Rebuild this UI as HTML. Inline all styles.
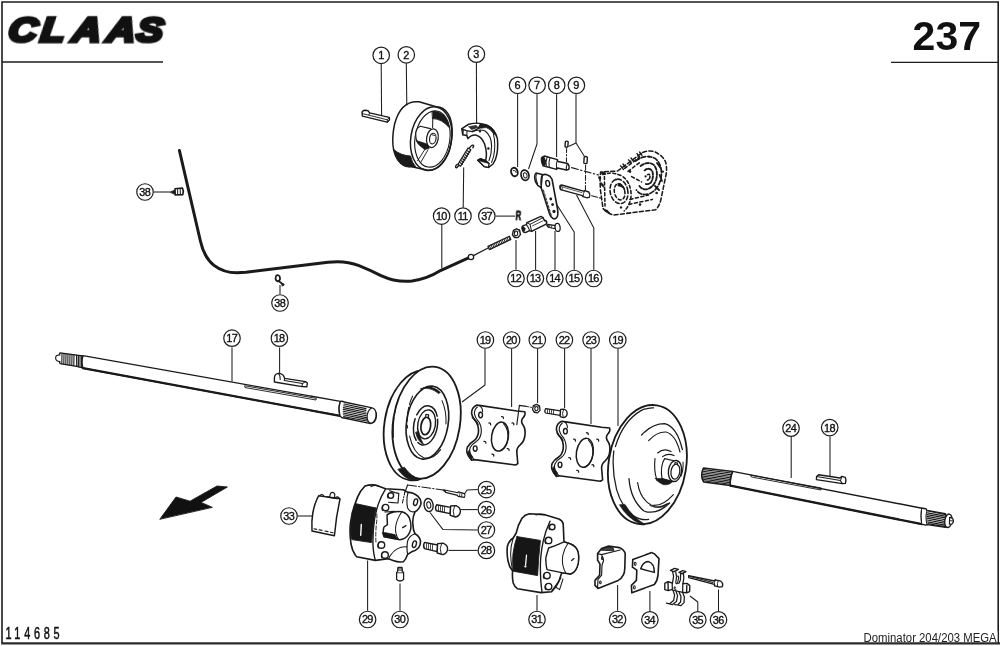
<!DOCTYPE html>
<html lang="de"><head><meta charset="utf-8"><title>CLAAS 237 - Dominator 204/203 MEGA</title>
<style>html,body{margin:0;padding:0;background:#fff}svg{display:block}svg text{will-change:transform}</style></head>
<body>
<svg width="1000" height="646" viewBox="0 0 1000 646">
<rect width="1000" height="646" fill="#fff"/>
<g fill="none" stroke="#1c1c1c" stroke-linecap="butt">
<path d="M2,643 L2,2 L998.2,2 L998.2,643" stroke-width="1.6"/>
<path d="M2,62 L163,62" stroke-width="1.3"/>
<path d="M891,62.3 L998.2,62.3" stroke-width="1.3"/>
<path d="M1.2,643.4 L1000,643.4" stroke-width="2.2" stroke="#2a2a2a"/>
</g>
<text transform="translate(0 41.9) scale(1.12 1) skewX(-6)" x="6.4 35.3 63.6 94.5 121" y="0" font-family="'Liberation Sans',sans-serif" font-weight="bold" font-style="italic" font-size="35.6" fill="#111" stroke="#111" stroke-width="3.7" stroke-linejoin="miter">CLAAS</text>
<text x="912.6" y="49.6" font-family="'Liberation Sans',sans-serif" font-weight="bold" font-size="41" textLength="68.4" lengthAdjust="spacingAndGlyphs" fill="#111">237</text>
<text transform="translate(5.4 639.3) scale(0.7 1)" font-family="'Liberation Sans',sans-serif" font-size="15.6" letter-spacing="5.3" fill="#111" stroke="#111" stroke-width="0.5">114685</text>
<rect x="862" y="631" width="135.4" height="11" fill="#fff"/>
<text x="863.6" y="642.2" font-family="'Liberation Sans',sans-serif" font-size="12.3" textLength="133" lengthAdjust="spacingAndGlyphs" fill="#222">Dominator 204/203 MEGA</text>
<!-- 01_cable.svg -->
<g fill="none" stroke="#1a1a1a" stroke-linecap="round" stroke-linejoin="round">
  <!-- bowden cable 10 -->
  <path d="M179.4,150.5 L200.4,241 Q204,257.4 214,265.4 Q223.6,272.8 237,272.8 L246,272.2 L328,262.3 Q345,260.2 359,265.6 Q371,270.5 381,275.6 Q396,282.6 412,281 Q427,279 441,270.3 L468.5,257.8" stroke-width="3"/>
  <circle cx="471" cy="257" r="2.7" fill="#fff" stroke-width="1.26"/>
  <path d="M473.5,255.6 L488.6,247.8" stroke-width="1.26"/>
  <!-- threaded rod -->
  <path d="M488,246.4 L509.4,236.2 L510.8,239.4 L489.4,249.6 Z" fill="#fff" stroke-width="1.26"/>
  <path d="M489.6,246.0 L490.8,248.9 M491.2,245.2 L492.4,248.1 M492.8,244.5 L494.0,247.4 M494.4,243.7 L495.6,246.6 M496.0,243.0 L497.2,245.9 M497.6,242.2 L498.8,245.1 M499.2,241.5 L500.4,244.4 M500.8,240.7 L502.0,243.6 M502.4,240.0 L503.6,242.9 M504.0,239.2 L505.2,242.1 M505.6,238.4 L506.8,241.3 M507.2,237.7 L508.4,240.6 M508.8,236.9 L510.0,239.8" stroke-width="0.92"/>
  <!-- cable clip 38 upper -->
  <path d="M170.5,192 L174.5,190.3 L174.5,193.9 Z" fill="#1a1a1a" stroke-width="0.92"/>
  <path d="M175,188.8 L182.4,188 Q184.2,191.2 182.8,194.6 L175.2,195 Z" fill="#fff" stroke-width="1.61"/>
  <path d="M177.6,189 L177.7,194.6 M180.2,188.6 L180.4,194.6" stroke-width="1.03"/>
  <!-- cable clip 38 lower -->
  <path d="M276.3,275.6 Q274.2,279.6 277.6,281.4 Q280.8,280.8 279.8,276.8 Q278.6,274.2 276.3,275.6 Z M278.2,280.8 L283.6,284.8" stroke-width="1.72"/>
  <path d="M281.8,283.2 L284,284.4 L282.6,286 Z" fill="#1a1a1a" stroke-width="0.92"/>
</g>
<!-- 02_drum.svg -->
<g fill="none" stroke="#1a1a1a" stroke-linecap="round" stroke-linejoin="round" stroke-width="1.26">
  <!-- key 1 -->
  <path d="M362,112.6 Q362.2,110.4 365,110.2 L368.2,110.8 L369.6,112.8 L389.2,117.4 L389.6,119.8 L387.2,122.2 L362.4,116.2 Z" fill="#fff" stroke-width="1.38"/>
  <path d="M369.6,112.8 L368.8,115.2 L387.4,119.8 L389.2,117.4 M387.4,119.8 L387.2,122.2 M362.4,113.6 L368.8,115.2" stroke-width="0.92"/>
  <!-- drum 2 : outer body -->
  <path d="M419,101.8 Q401,100 394.6,124 Q389.6,148 398,160.4 Q404,168 411,166.6 L427.5,170.2 Q441.5,171.2 449.4,150.4 Q455.6,126 448,113.6 Q443.2,106.6 436.2,106.8 Z" fill="#fff" stroke-width="1.49"/>
  <!-- front rim ellipse -->
  <ellipse cx="431.2" cy="138.6" rx="20.4" ry="32" transform="rotate(9 431.2 138.6)" stroke-width="1.49"/>
  <ellipse cx="432.4" cy="139" rx="17.4" ry="28.4" transform="rotate(9 432.4 139)" stroke-width="1.15"/>
  <!-- dark shading bottom-left of outer surface -->
  <path d="M394.2,150 Q396,158 400,162.4 Q405,167.6 411,166.6 L416.5,167.8 Q411.6,162.4 410.6,156 Q401,155.6 394.2,150 Z" fill="#1a1a1a" stroke-width="0.92"/>
  <!-- dark shading inside top -->
  <path d="M432.4,111.4 Q440.6,110.8 446.2,118.6 Q448.4,122.6 449,127.4 Q441.6,118.6 432.8,118.6 Z" fill="#1a1a1a" stroke-width="0.92"/>
  <path d="M432.8,117.6 L432.6,127.4" stroke-width="1.03"/>
  <!-- hub -->
  <path d="M430.4,128.6 L420.2,126.2 Q415.2,128.4 415.8,136.2 Q416.2,142.6 420.2,144.6 L428.6,147 " fill="#fff" stroke-width="1.15"/>
  <path d="M416.4,140.6 L427.8,144.2 L429.4,148.2 L424.6,149.6 L420.2,146 Q417.6,144 416.4,140.6 Z" fill="#1a1a1a" stroke-width="0.69"/>
  <ellipse cx="432.4" cy="138.2" rx="5.8" ry="9.4" transform="rotate(9 432.4 138.2)" fill="#fff" stroke-width="1.26"/>
  <ellipse cx="432.8" cy="138.6" rx="3.2" ry="5.4" transform="rotate(9 432.8 138.6)" stroke-width="1.15"/>
  <path d="M431.6,134.6 L435,135.6" stroke-width="0.92"/>
  <!-- spokes -->
  <path d="M425.4,148.6 L417.6,160.8 M428,149.8 L420.4,163" stroke-width="0.92"/>
</g>
<!-- 03_shoe.svg -->
<g fill="none" stroke="#1a1a1a" stroke-linecap="round" stroke-linejoin="round" stroke-width="1.26">
  <!-- brake shoe 3 outer silhouette -->
  <path d="M461.8,128.8 L468.6,124.4 Q476,122.6 486.2,125 Q494.6,128.6 497.4,138.6 Q498.6,150.6 495.4,159.6 L493,164 L488.6,167.4 L484.4,166.6 L477.8,160.2 L480.4,158.8 L485.6,160.6 Q487.6,153 484.6,144 Q481.6,136.4 475.6,135 Q471,134.8 468,138.6 L466.8,135.6 L462.8,134.8 Z" fill="#fff" stroke-width="1.49"/>
  <!-- top block shading -->
  <path d="M468.6,124.4 Q476,122.6 481,123.6 L478.4,128.4 L472.2,131.6 L466.4,130.6 L461.8,128.8 Z" fill="#fff"/>
  <path d="M468,126.4 L476,125 L478.6,127.4 L471.6,130 Z" fill="#333" stroke="none"/>
  <path d="M462.8,134.8 L463.4,129.6 M466.8,135.6 L467,131" stroke-width="1.03"/>
  <!-- lining dark band top right -->
  <path d="M481,123.6 Q486.2,124 489.4,126 Q494.4,129.4 496.6,135.4 L493.4,133.6 Q490.6,129 486.2,127.6 L478.4,128.4 Z" fill="#1a1a1a" stroke-width="0.69"/>
  <!-- web / lining boundaries -->
  <path d="M472.2,131.6 Q479.6,128.8 485.2,131 Q491.6,136 491.6,146 Q491.6,154 489,160.6" stroke-width="1.15"/>
  <path d="M493.4,133.6 Q496,144 493.6,156.6 L491.6,162.4" stroke-width="1.03"/>
  <circle cx="480" cy="131.2" r="0.6" fill="#1a1a1a"/><circle cx="488.4" cy="148.4" r="0.6" fill="#1a1a1a"/>
  <!-- bottom end face -->
  <path d="M477.8,160.2 L484.4,166.6 L488.6,167.4 L489,163.4 L485.6,160.6 L480.4,158.8 Z" fill="#fff"/>
  <path d="M477.8,160.2 L480.4,158.8 L486,160.8 L489.4,163.6 L485,162.4 Z" fill="#1a1a1a" stroke-width="0.69"/>
  <!-- spring 11 -->
  <path d="M472.8,147.8 Q474.8,145 472.4,145.2 Q470.4,146 469.2,148.6" stroke-width="1.38"/>
  <path d="M468,148 L457.8,164.6 L460.6,166.2 L470.8,149.8 Z" fill="#fff" stroke-width="1.26"/>
  <path d="M467.4,150.8 L469.6,152.2 M466.2,152.8 L468.4,154.2 M465,154.8 L467.2,156.2 M463.8,156.8 L466,158.2 M462.6,158.8 L464.8,160.2 M461.4,160.8 L463.6,162.2 M460.2,162.8 L462.4,164.2" stroke-width="1.26"/>
  <path d="M459,165.4 Q456.2,169 455.6,167 Q455.4,165.4 457.2,164.4" stroke-width="1.38"/>
</g>
<!-- 04_linkage.svg -->
<g fill="none" stroke="#1a1a1a" stroke-linecap="round" stroke-linejoin="round" stroke-width="1.26">
  <!-- washer 6 -->
  <ellipse cx="514.4" cy="172" rx="3.3" ry="4.3" transform="rotate(-15 514.4 172)" fill="#fff" stroke-width="1.84"/>
  <path d="M513.2,170.4 Q515.8,169.8 516.4,172.6" stroke-width="0.92"/>
  <!-- washer 7 -->
  <ellipse cx="525" cy="175.2" rx="3.9" ry="5.2" transform="rotate(-15 525 175.2)" fill="#fff" stroke-width="1.72"/>
  <ellipse cx="525.2" cy="175.4" rx="1.8" ry="2.7" transform="rotate(-15 525.2 175.4)" stroke-width="0.92"/>
  <!-- pin 8 -->
  <path d="M544.2,156 L557.4,159.6 L558,161.6 L567.8,163.6 Q570,166.4 568.6,169.6 L566.4,170 L557.4,168 L556.6,169.4 L543,165.8 Q540.6,160.4 544.2,156 Z" fill="#fff" stroke-width="1.49"/>
  <ellipse cx="543.4" cy="161" rx="2" ry="4.6" transform="rotate(-12 543.4 161)" fill="#1a1a1a" stroke-width="0.80"/>
  <path d="M547.2,156.8 Q545.4,161.6 546.4,166.6 M550,157.6 Q548.2,162.4 549.2,167.4 M557.4,159.6 Q555.6,164.4 556.6,169.4 M567.2,164 Q565.8,167 566.4,170" stroke-width="1.03"/>
  <!-- small pins 9 -->
  <path d="M565.4,141.6 L565,146.6 Q566.4,147.8 567.8,146.8 L568.2,141.8 Q566.8,140.6 565.4,141.6 Z" fill="#fff" stroke-width="1.38"/>
  <path d="M584.2,157 L583.8,163 Q585.4,164.2 587,163.2 L587.4,157.2 Q585.8,156 584.2,157 Z" fill="#fff" stroke-width="1.38"/>
  <!-- dash-dot axis lines -->
  <path d="M566.6,148.6 L566.4,163.6" stroke-width="1.03" stroke-dasharray="4 2 1.2 2"/>
  <path d="M585.6,165 L585.4,192.6" stroke-width="1.03" stroke-dasharray="5 2 1.2 2"/>
  <path d="M571.6,167.6 L598.6,175" stroke-width="1.15" stroke-dasharray="7 2.4 1.4 2.4"/>
  <path d="M591.6,195.8 L601,198.2" stroke-width="1.15" stroke-dasharray="6 2 1.4 2"/>
  <!-- lever 15 -->
  <path d="M542.2,175.4 Q544.4,173.8 547,174.8 Q550.6,176 552,179.2 L557.2,207 Q558.6,214.4 557.2,216.8 Q555.6,219.6 553,218.6 Q550.8,217.6 549.6,214 L542.8,192.4 L541,187.4 Z" fill="#fff" stroke-width="1.61"/>
  <path d="M536,173 L542.2,174.4 Q540.4,180 541.4,188 L537.8,185.4 Q534.6,181.6 534.6,177.4 Q534.8,174 536,173 Z" fill="#fff" stroke-width="1.49"/>
  <path d="M536.4,174.6 Q535,178 537.6,183.6" stroke-width="1.03"/>
  <ellipse cx="547.7" cy="183.4" rx="1.9" ry="3" transform="rotate(-12 547.7 183.4)" stroke-width="1.38"/>
  <path d="M543.4,190 L551.4,215.6" stroke-width="0.92" stroke-dasharray="2.4 1.6"/>
  <circle cx="550.8" cy="199" r="0.8" fill="#1a1a1a"/><circle cx="552.6" cy="204.6" r="0.8" fill="#1a1a1a"/><circle cx="554" cy="211.4" r="1" fill="#1a1a1a"/>
  <!-- pin 16 -->
  <path d="M561.6,185 L583.4,191.2 L584.6,190.6 L588.8,192 Q590.6,194.4 589.4,197.2 L587.4,197.8 L583,196.6 L582.4,195.6 L560.6,189.6 Q559.2,186.8 561.6,185 Z" fill="#fff" stroke-width="1.38"/>
  <ellipse cx="561" cy="187.4" rx="1.2" ry="2.5" transform="rotate(-14 561 187.4)" stroke-width="0.92"/>
  <path d="M584.6,190.6 Q583.2,193.6 583,196.6" stroke-width="0.92"/>
  <path d="M563,187.2 L582,192.6" stroke-width="0.69"/>
  <!-- nut 12 -->
  <path d="M513.4,230.4 L516.6,228.8 L519.6,230.2 L520.4,234.6 L518,237.6 L514.6,237.6 L512.4,234.8 Z" fill="#fff" stroke-width="1.38"/>
  <ellipse cx="516" cy="233.4" rx="1.7" ry="2.3" stroke-width="1.03"/>
  <path d="M513.4,230.4 L515.2,232 M519.6,230.2 L517.6,231.6 M514.6,237.6 L515.4,235.6" stroke-width="0.80"/>
  <!-- clevis 13 -->
  <path d="M522.4,229.6 Q521.2,226.6 523.4,225.6 L526.4,224.6 L527,222.6 L541,216.4 L543,217.6 L544.6,220.8 L545.6,220.4 Q547.4,221.8 546.2,224.2 L531.6,231.4 L529.6,230.6 L525.4,232.6 Q523,232.6 522.4,229.6 Z" fill="#fff" stroke-width="1.49"/>
  <path d="M526.4,224.6 Q528.4,227 529.6,230.6 M527,222.6 L530,224.4 L531.6,231.4 M530,224.4 L543,217.6" stroke-width="1.03"/>
  <path d="M532.6,225.8 L542.6,221" stroke-width="0.80"/>
  <ellipse cx="523.6" cy="228.8" rx="1.3" ry="2.2" transform="rotate(-20 523.6 228.8)" fill="#1a1a1a" stroke-width="0.69"/>
  <!-- bolt 14 -->
  <path d="M547.8,224.4 L555.4,225.6 L555.2,228.8 L548.2,227.2 Z" fill="#fff" stroke-width="1.15"/>
  <path d="M549.8,224.8 L549.6,227.4 M551.8,225.2 L551.6,227.8" stroke-width="0.80"/>
  <ellipse cx="557.6" cy="227.4" rx="2.5" ry="4.1" transform="rotate(-8 557.6 227.4)" fill="#fff" stroke-width="1.26"/>
  <path d="M547.8,224.4 L548.2,227.2 L546.4,225.6 Z" fill="#1a1a1a" stroke-width="0.69"/>
</g>
<text transform="translate(515.4 219.9) scale(0.62 1) skewX(-6)" font-family="'Liberation Sans',sans-serif" font-weight="bold" font-size="12.8" fill="#1a1a1a" stroke="#1a1a1a" stroke-width="0.80">R</text>
<!-- dashed housing -->
<g fill="none" stroke="#1a1a1a" stroke-linecap="round" stroke-linejoin="round" stroke-width="1.55" stroke-dasharray="4 2.4">
  <path d="M642.6,152.4 Q649,150 654.6,151.8 Q662,155 665.4,161.4 Q667.2,167 666.2,174 L661,199 Q659.6,206 655.6,209.8 L613.6,215 Q607.6,213.6 603,208.4 L600.4,190 L600,179.6 L600.6,172 L617.6,171 Z"/>
  <ellipse cx="619" cy="191.4" rx="8.8" ry="12.4" transform="rotate(-12 619 191.4)"/>
  <ellipse cx="619.6" cy="191.8" rx="5.2" ry="8.2" transform="rotate(-12 619.6 191.8)" stroke-dasharray="3 2.4"/>
  <path d="M604.4,176.6 L605,206 M607.6,173.4 Q613,172 622,176 Q630.6,181.6 631.2,195 Q630.2,205.6 624.2,211" stroke-dasharray="3 2.4"/>
  <!-- right lobe concentric arcs -->
  <path d="M635.6,161 Q646,153.4 655.4,158.6 Q663,165 661,178.4 Q658,190.4 648.8,194 Q640.6,196 636.4,190" stroke-width="1.72" stroke-dasharray="4.4 2"/>
  <path d="M640.6,166 Q648,160.6 654,165 Q658.6,171 656,180 Q653,188 646.2,189.4 Q641.6,189.4 639.4,186" stroke-width="1.84" stroke-dasharray="3.6 1.8"/>
  <path d="M644.6,170.4 Q649.6,166.6 652.4,171.6 Q654,177 651,182.4 Q647.8,185.4 644.4,183.4" stroke-width="1.84" stroke-dasharray="3 1.6"/>
  <path d="M647.6,174.6 Q649.6,173.4 650,176.6 Q649.6,179.6 647.4,180" stroke-width="1.61" stroke-dasharray="2.4 1.4"/>
  <!-- ribs / ticks -->
  <path d="M624.6,168.4 L639.6,157 M628,171.4 L640.6,161.8 M631.6,176.6 L641.6,182 M630,199.4 L648.6,195 M629,204.4 L652.4,199.4" stroke-dasharray="3 2.6"/>
  <path d="M620.6,165.8 L623.4,169.4 M623,164 L625.8,167.6 M628.6,159.8 L631.4,163.4 M631,158 L633.8,161.6 M637,153.6 L639.4,157 M639.6,152 L642,155.4" stroke-width="1.38" stroke-dasharray="none"/>
  <path d="M657,163 L660.6,168 M659.6,175 L662,181 M655,186 L659,190" stroke-width="1.84" stroke-dasharray="none"/>
</g>
<g fill="#1a1a1a" stroke="none">
  <circle cx="630" cy="171.6" r="1.3"/><circle cx="649" cy="156.6" r="1.2"/><circle cx="662.8" cy="171.6" r="1.2"/><circle cx="640" cy="204.6" r="1.3"/><circle cx="621" cy="207.4" r="1.2"/><circle cx="616" cy="179.6" r="1.1"/><circle cx="656.6" cy="193" r="1.3"/><circle cx="645.6" cy="176.4" r="1.1"/>
  <path d="M617.6,183 Q622.6,182.6 625.4,190 Q621.6,186.4 617.6,186 Z"/>
  <path d="M600.6,181.6 L604,185 L603.6,188 L600.4,184.6 Z M603,208.4 L607.6,210 L610.6,213.6 L606,212.4 Z M600.6,172 L605,171.6 L606.4,174.8 L602,175.2 Z M598.4,176 L601.4,177.6 L600.8,180 L598.2,178.4 Z"/>
</g>
<!-- 05_shafts.svg -->
<g fill="none" stroke="#1a1a1a" stroke-linecap="round" stroke-linejoin="round" stroke-width="1.26">
  <!-- shaft 17 main body -->
  <path d="M83,355.6 L340.4,401.4 Q338,408 340,415.8 L83,368.2 Q81,362 83,355.6 Z" fill="#fff" stroke-width="1.38"/>
  <path d="M83,368.2 L340,415.8" stroke-width="2.2"/>
  <!-- left spline -->
  <path d="M60,352.8 L76.6,355.2 L76.8,366.4 L60,363.6 Q57.6,358 60,352.8 Z" fill="#fff"/>
  <path d="M76.6,355.2 L83,355.8 M76.8,366.4 L83,368" />
  <g stroke-width="1.09">
    <path d="M62,353.2 L61.8,363.8 M64,353.5 L63.8,364.2 M66,353.8 L65.8,364.5 M68,354.1 L67.8,364.8 M70,354.4 L69.8,365.2 M72,354.7 L71.8,365.5 M74,355 L73.8,365.8 M78.4,355.6 L78.4,366.8 M80,355.8 L80,367.2 M81.6,356 L81.6,367.6"/>
  </g>
  <path d="M60,355 Q55.6,354.6 55.6,358 Q55.8,361.4 60,361.6" fill="#fff" stroke-width="1.15"/>
  <!-- keyway -->
  <path d="M245,385.8 L316.4,398.4 L316,400 L245.4,387.6 Z" stroke-width="0.92"/>
  <!-- right spline -->
  <path d="M340.4,401.4 Q343,401 344,402 L371,407.6 Q376.6,409.6 376.4,416 Q376,422.6 370.6,423.6 L344,418 Q342,418.4 340,415.8 Q338,408 340.4,401.4 Z" fill="#fff" stroke-width="1.38"/>
  <ellipse cx="371.6" cy="415.6" rx="4.4" ry="7.6" transform="rotate(8 371.6 415.6)" fill="#fff" stroke-width="1.15"/>
  <g stroke-width="1.09">
    <path d="M344,404 L366,408.6 M343.6,405.8 L366,410.4 M343.4,407.6 L366,412.2 M343.2,409.4 L366.4,414 M343.2,411.2 L366.4,415.8 M343.2,413 L366.6,417.6 M343.4,414.8 L367,419.4 M343.6,416.6 L368,421.2"/>
  </g>
  <!-- key 18 (left) -->
  <path d="M274.4,377.6 Q274.6,373.8 278.6,373.4 Q282.4,373.4 284,376.6 L284.6,378.4 L305.4,381.6 L307.4,383 L306.8,386.8 L302,386.6 L274.4,382 Z" fill="#fff" stroke-width="1.38"/>
  <path d="M284.6,378.4 L284.2,380.6 L302.4,383.6 L302,386.6 M302.4,383.6 L305.4,381.6 M278.6,373.4 Q280.6,376 280.2,379.8" stroke-width="1.03"/>

  <!-- shaft 24 main body -->
  <path d="M732.6,471.4 L922,508.2 Q920,516 922,524.2 L730.4,485.6 Q729.6,478 732.6,471.4 Z" fill="#fff" stroke-width="1.38"/>
  <path d="M730.4,485.6 L922,524.2" stroke-width="2.3"/>
  <!-- left spline of 24 -->
  <path d="M703.4,468 L732.6,471.4 Q729.6,478 730.4,485.6 L703.6,482 Q699.8,475 703.4,468 Z" fill="#fff" stroke-width="1.49"/>
  <g stroke-width="1.15">
    <path d="M703.2,469.6 L731.4,473 M702.4,471.2 L730.8,474.6 M702,472.8 L730.4,476.2 M701.8,474.4 L730.2,477.8 M701.8,476 L730,479.4 M702,477.6 L730,481 M702.4,479.2 L730.2,482.6 M703,480.8 L730.4,484.2"/>
  </g>
  <!-- keyway 24 -->
  <path d="M751,475.2 L821.4,488 L821,490 L751.6,477 Z" stroke-width="0.92"/>
  <!-- right end spline of 24 -->
  <path d="M922,508.2 L926,508.8 L927,510.4 L945.4,513.6 Q948.4,520 945.6,527.4 L927,524.6 L925.4,525.2 L922,524.2" fill="#fff" stroke-width="1.38"/>
  <path d="M927,510.4 Q925,517 927,524.6" stroke-width="1.03"/>
  <g stroke-width="1.21">
    <path d="M928.2,511 L945.6,514.6 M927.6,512.8 L946.2,516.4 M927.2,514.6 L946.6,518.2 M927,516.4 L946.8,520 M927,518.2 L946.8,521.8 M927.2,520 L946.6,523.6 M927.6,521.8 L946.2,525.4 M928,523.6 L945.8,526.8"/>
  </g>
  <ellipse cx="948.4" cy="520.8" rx="3.6" ry="6.8" transform="rotate(8 948.4 520.8)" fill="#fff" stroke-width="1.38"/>
  <path d="M949.6,517.4 L952.6,518.4 Q954.4,520.8 952.4,523.8 L949.4,524.2 Z" fill="#fff" stroke-width="1.15"/>
  <path d="M949.4,520.6 L953,521" stroke-width="0.92"/>
  <!-- key 18 (right) -->
  <path d="M816.6,476.6 L818.6,474.8 L840,478 L842,476.4 L845.2,477.4 Q846.8,480.4 845.4,483.4 L842.4,483.6 L816.4,479.6 Z" fill="#fff" stroke-width="1.38"/>
  <path d="M816.6,476.6 L840.4,480.6 L842.4,483.6 M840.4,480.6 L842,476.4" stroke-width="1.03"/>
</g>
<!-- 06_discs.svg -->
<g fill="none" stroke="#1a1a1a" stroke-linecap="round" stroke-linejoin="round" stroke-width="1.38">
  <!-- LEFT DISC 19 -->
  <ellipse cx="417.8" cy="425.4" rx="33.4" ry="55.4" transform="rotate(9 417.8 425.4)" fill="#fff" stroke-width="1.84"/>
  <ellipse cx="426.6" cy="422.6" rx="33.4" ry="56.4" transform="rotate(9 426.6 422.6)" fill="#fff" stroke-width="1.84"/>
  <!-- rim dark bottom -->
  <path d="M398,469.6 Q404,478.4 412.6,480.4 L420,479.2 Q411,476.6 404.6,467.6 Z" fill="#1a1a1a" stroke-width="0.80"/>
  <!-- inner ring -->
  <ellipse cx="427.4" cy="422.6" rx="20.8" ry="36.8" transform="rotate(9 427.4 422.6)" stroke-width="1.61"/>
  <path d="M420.6,388.8 Q431,383.6 440.4,392.4 L438.6,393.6 Q430.6,386.6 420.6,388.8 Z" fill="#1a1a1a" stroke-width="0.69"/>
  <path d="M409.6,436 Q413,452.6 423.6,457.8 Q433,460 440.6,449.6" stroke-width="1.15" />
  <path d="M412.6,396 Q405.6,411 407.6,428" stroke-width="1.03" stroke-dasharray="9 3 14 4"/>
  <path d="M442,400.6 Q446.6,411 446,424" stroke-width="1.03"/>
  <!-- hub rings -->
  <ellipse cx="425.6" cy="425.4" rx="11.8" ry="19.8" transform="rotate(10 425.6 425.4)" stroke-width="1.49" stroke-dasharray="30 3 22 4"/>
  <ellipse cx="426.6" cy="424.4" rx="8.8" ry="14.6" transform="rotate(10 426.6 424.4)" stroke-width="1.38"/>
  <path d="M415.6,432.6 Q417.6,441.6 423.6,444.4 Q420,438.6 418.6,431.6 Z" fill="#1a1a1a" stroke-width="0.69"/>
  <ellipse cx="425.8" cy="426" rx="4.8" ry="8.8" transform="rotate(8 425.8 426)" fill="#fff" stroke-width="1.72"/>
  <path d="M425.4,416.4 L426,414.4 L428.6,414.8 L428.4,417.4" stroke-width="1.15"/>
  <!-- outer face reflex lines -->
  <path d="M398.6,398 Q391.6,418 393.6,440" stroke-width="1.03" stroke-dasharray="16 4 20 5"/>

  <!-- RIGHT DISC 19 -->
  <ellipse cx="647.4" cy="464.6" rx="38.8" ry="60" transform="rotate(9 647.4 464.6)" fill="#fff" stroke-width="1.84"/>
  <path d="M613.8,451 Q611.6,470 616.6,489.6 Q622,507.6 633,515.6 Q640.6,520.6 648.6,519.4" stroke-width="1.26"/>
  <path d="M615.4,446.6 Q623,421 641,410.6 Q647.6,407.4 653.6,407.8" stroke-width="1.26"/>
  <!-- rim dark bottom -->
  <path d="M619.6,505 Q627.6,518.6 640,523.6 L645,524.4 Q633,517.6 625,504.6 Z" fill="#1a1a1a" stroke-width="0.69"/>
  <!-- dish contours -->
  <path d="M641.6,435 Q652,423.6 664.6,423.6 Q677,426.6 682.4,449.6" stroke-width="1.26"/>
  <path d="M648.6,440.6 Q657,431.6 666,432 Q675.6,434.6 680,452" stroke-width="1.15"/>
  <path d="M629,478.6 Q630.6,500 644,511 Q656.6,515.6 669.6,503" stroke-width="1.26"/>
  <path d="M637.6,482.6 Q640,498.6 651,505 Q661.6,507.6 673.4,494.6" stroke-width="1.15"/>
  <path d="M650,505.6 Q659,508.6 667,503.6 L669.6,503 Q660,511 650,505.6 Z" fill="#1a1a1a" stroke-width="0.57"/>
  <!-- hub base -->
  <path d="M657.6,453 Q664,447.6 671,451.6 M655,458.6 Q653.6,470 657,480.6 M662.6,456.6 Q668,452.6 674,455.6" stroke-width="1.15"/>
  <!-- hub cylinder -->
  <path d="M675,461 L664.6,458.6 Q660,466 662,478.6 L672.6,481.6" fill="#fff" stroke-width="1.15"/>
  <path d="M655.4,478.6 L662,478.6 L672.6,481.6 Q669,485.6 663,484.6 Q658,482.6 655.4,478.6 Z" fill="#1a1a1a" stroke-width="0.69"/>
  <ellipse cx="675" cy="471" rx="6.6" ry="10.6" transform="rotate(8 675 471)" fill="#fff" stroke-width="1.38"/>
  <ellipse cx="675.4" cy="471.6" rx="4.4" ry="7.6" transform="rotate(8 675.4 471.6)" stroke-width="1.26"/>
  <path d="M674.6,464.4 L675,462.6 L677.6,463 L677.4,465" stroke-width="1.03"/>
  <path d="M681,476 Q683.6,470 683,462" stroke-width="1.03"/>
</g>
<!-- 07_flanges.svg -->
<g fill="none" stroke="#1a1a1a" stroke-linecap="round" stroke-linejoin="round">
    <path d="M479.2,405.4 L516.8,411 L524.8,411.8 Q526,415 522.4,418.6 Q520.6,421.6 523,425 Q525.6,428.6 525,434.6 Q524.6,441 520.4,444.6 Q516.6,447.6 516.8,452 L517.8,463.6 L515.6,465 L474.4,459.6 L471.6,460.2 L468.8,456.6 Q465.6,451.6 467.4,447.2 Q469.4,443.4 473.6,441 Q477.4,438.6 478.4,432.6 Q479,426.4 476,421.6 Q472.4,418 471.6,413.6 Q471.4,409 474.6,406.4 Q477,404.6 479.2,405.4 Z" fill="#fff" stroke-width="1.61"/>
    <!-- inner thickness line on left -->
    <path d="M479.2,405.4 Q482.6,407.4 482.6,411.4 M477.4,407 Q474.2,409.6 474.4,414 Q475.2,418 478.8,421.8 Q481.8,426.6 481.2,432.8 Q480.2,439 476.4,441.4 Q472.2,443.8 470.2,447.6 Q468.6,451.6 471.6,456.4 L473.6,459" stroke-width="1.15"/>
    <path d="M472.4,418 Q475,421.6 478.6,424.6 L476.6,421 Q473.6,418.6 472.4,416 Z M467.6,452 Q468.6,456.6 471.6,460.2 L472.6,456.6 Q469.6,453.6 469.4,450.6 Z" fill="#1a1a1a" stroke-width="0.69"/>
    <!-- center hole -->
    <ellipse cx="500" cy="436.6" rx="8.4" ry="14.6" transform="rotate(9 500 436.6)" stroke-width="1.49"/>
    <path d="M503.6,423.6 Q509.6,430 507.6,441 Q505.6,448.6 500.6,450.4" stroke-width="1.15"/>
    <!-- bolt holes -->
    <ellipse cx="480.6" cy="415" rx="1.9" ry="2.7" stroke-width="1.38"/>
    <ellipse cx="475.2" cy="448.6" rx="1.9" ry="2.7" stroke-width="1.38"/>
    <!-- small holes -->
    <g stroke-width="1.26">
      <path d="M501.6,416.6 Q503.6,416.2 503.4,418.4 M488.8,423 Q490.8,422.6 490.6,424.8 M512,423 Q514,422.6 513.8,424.8 M484,441.4 Q486,441 485.8,443.2 M507.2,448.6 Q509.2,448.2 509,450.4 M492,454.2 Q494,453.8 493.8,456"/>
    </g>
  </g>
<g transform="translate(84.8 16.2)" fill="none" stroke="#1a1a1a" stroke-linecap="round" stroke-linejoin="round">
    <path d="M479.2,405.4 L516.8,411 L524.8,411.8 Q526,415 522.4,418.6 Q520.6,421.6 523,425 Q525.6,428.6 525,434.6 Q524.6,441 520.4,444.6 Q516.6,447.6 516.8,452 L517.8,463.6 L515.6,465 L474.4,459.6 L471.6,460.2 L468.8,456.6 Q465.6,451.6 467.4,447.2 Q469.4,443.4 473.6,441 Q477.4,438.6 478.4,432.6 Q479,426.4 476,421.6 Q472.4,418 471.6,413.6 Q471.4,409 474.6,406.4 Q477,404.6 479.2,405.4 Z" fill="#fff" stroke-width="1.61"/>
    <!-- inner thickness line on left -->
    <path d="M479.2,405.4 Q482.6,407.4 482.6,411.4 M477.4,407 Q474.2,409.6 474.4,414 Q475.2,418 478.8,421.8 Q481.8,426.6 481.2,432.8 Q480.2,439 476.4,441.4 Q472.2,443.8 470.2,447.6 Q468.6,451.6 471.6,456.4 L473.6,459" stroke-width="1.15"/>
    <path d="M472.4,418 Q475,421.6 478.6,424.6 L476.6,421 Q473.6,418.6 472.4,416 Z M467.6,452 Q468.6,456.6 471.6,460.2 L472.6,456.6 Q469.6,453.6 469.4,450.6 Z" fill="#1a1a1a" stroke-width="0.69"/>
    <!-- center hole -->
    <ellipse cx="500" cy="436.6" rx="8.4" ry="14.6" transform="rotate(9 500 436.6)" stroke-width="1.49"/>
    <path d="M503.6,423.6 Q509.6,430 507.6,441 Q505.6,448.6 500.6,450.4" stroke-width="1.15"/>
    <!-- bolt holes -->
    <ellipse cx="480.6" cy="415" rx="1.9" ry="2.7" stroke-width="1.38"/>
    <ellipse cx="475.2" cy="448.6" rx="1.9" ry="2.7" stroke-width="1.38"/>
    <!-- small holes -->
    <g stroke-width="1.26">
      <path d="M501.6,416.6 Q503.6,416.2 503.4,418.4 M488.8,423 Q490.8,422.6 490.6,424.8 M512,423 Q514,422.6 513.8,424.8 M484,441.4 Q486,441 485.8,443.2 M507.2,448.6 Q509.2,448.2 509,450.4 M492,454.2 Q494,453.8 493.8,456"/>
    </g>
  </g>
<g fill="none" stroke="#1a1a1a" stroke-linecap="round" stroke-linejoin="round" stroke-width="1.15">
  <!-- bracket on 20 -->
  <path d="M516.8,424.6 L519.4,405.4 L526,406.4" stroke-width="1.15"/>
  <path d="M526,406.4 L531.6,407.4" stroke-width="0.92" stroke-dasharray="3 1.6"/>
  <!-- nut 21 -->
  <path d="M533.4,405.6 L536.6,404.4 L539.6,406 L540,410.4 L537.6,412.8 L534.4,412.4 L532.6,409.6 Z" fill="#fff" stroke-width="1.26"/>
  <ellipse cx="536.4" cy="408.6" rx="1.6" ry="2.2" stroke-width="1.03"/>
  <path d="M533.4,405.6 L535.2,407 M539.6,406 L537.8,407.2 M534.4,412.4 L535.4,410.6" stroke-width="0.80"/>
  <!-- bolt 22 -->
  <path d="M545.6,408.6 L560.6,410.8 L560.2,415.4 L545.4,413 Q544,410.8 545.6,408.6 Z" fill="#fff" stroke-width="1.26"/>
  <path d="M547.6,409 L547.4,413.2 M549.6,409.4 L549.4,413.6 M551.6,409.6 L551.4,413.8 M553.6,410 L553.4,414.2" stroke-width="0.80"/>
  <path d="M560.6,409.4 L564.4,409.2 Q567.4,410.6 567.2,413.8 Q566.6,417.2 563.6,417.6 L560.2,416.6 Z" fill="#fff" stroke-width="1.26"/>
  <path d="M563.6,409.4 Q561.6,413 563.2,417.4" stroke-width="0.92"/>
</g>
<!-- 08_calipers.svg -->
<g fill="none" stroke="#1a1a1a" stroke-linecap="round" stroke-linejoin="round" stroke-width="1.38">
  <!-- CALIPER 29 outline -->
  <path d="M365,486 Q369.6,484.4 375.4,485 L385.6,488.8 L403.2,489.8 L408,492.4 Q414,492.6 418,496.4 Q421.8,500 420.8,504.4 Q419,509.6 415,511.8 Q412.4,517 412.8,523.6 Q413,530 415,533.8 Q419.6,536.4 420.4,540.6 Q420.8,545 418.6,547.8 Q415.6,551 412,551.6 L407.6,554.4 Q405.8,559.6 403.2,561.8 Q398,562.4 393,560.4 L388.6,558.8 L375.4,560.4 L356.6,556.8 Q352.4,552 351,544 Q349.4,533 350.4,523.6 Q351.6,513 354.8,504.4 Q357.6,496 360.6,491.2 Z" fill="#fff" stroke-width="1.61"/>
  <!-- black pad -->
  <path d="M355.4,503.6 L376,508 L374.6,514.8 Q372.6,530 371.6,542.6 L351.8,539.6 Q349.8,530 350.6,523.6 Q351.8,512 355.4,503.6 Z" fill="#161616" stroke-width="0.92"/>
  <path d="M361.3,524.4 L360.7,535.2" stroke="#fff" stroke-width="1.38"/>
  <!-- front face boundary -->
  <path d="M385.6,488.8 Q380.6,497 378.2,504.4 Q375.6,512 374.6,519 Q372.6,532 373,545.6 Q373.4,554 375.4,560.4" stroke-width="1.38"/>
  <path d="M376,508 Q377.6,516 376.4,524 Q375.4,534 376,543" stroke-width="0.92" stroke-dasharray="4 2"/>
  <!-- top detail -->
  <path d="M371,486.6 Q374.6,484.6 378.6,486 M389.6,490.8 L395,492.6 L398.8,493.4 L398,503 L388.6,502.2 M385,512 L394.6,511.4" stroke-width="1.15"/>
  <path d="M404.8,492.6 L407.6,485" stroke-width="1.15"/>
  <path d="M402.4,503 L404.8,492.6" stroke-width="1.03" stroke-dasharray="4 1.6 1 1.6"/>
  <path d="M407.6,485 L443.6,490" stroke-width="1.03" stroke-dasharray="9 2 1.4 2"/>
  <!-- bolts on face -->
  <circle cx="390.8" cy="495.6" r="2.8" fill="#fff"/><path d="M388.6,493.6 Q386.6,495.6 388,498" stroke-width="1.03"/>
  <circle cx="385.6" cy="507.6" r="3.2" fill="#fff"/><path d="M383,505.6 Q381,508 382.6,510.6" stroke-width="1.03"/>
  <circle cx="381.4" cy="545" r="3.3" fill="#fff"/><path d="M378.8,543 Q376.8,545.4 378.4,548" stroke-width="1.03"/>
  <circle cx="385" cy="555" r="3.3" fill="#fff"/><path d="M382.4,553 Q380.4,555.4 382,558" stroke-width="1.03"/>
  <!-- piston housing -->
  <path d="M387,514.8 Q393,510.6 401.8,511.8 Q407.6,513.4 409.6,518.6 Q411.6,524.6 410.6,529.6 Q409,535.6 404.8,538.2 Q401.6,540 398.8,539.6 L384,536.8 Q382.4,532 384,527 L387.4,524.6 Z" fill="#fff" stroke-width="1.49"/>
  <path d="M398.8,539.6 Q395,534.6 395.6,527 Q396.6,519.6 401.8,511.8" stroke-width="1.03"/>
  <path d="M382.4,533 L384,536.8 L398.8,539.6 Q395.8,537.4 395,534.6 L385,532.6 Z" fill="#161616" stroke-width="0.69"/>
  <path d="M402.6,527.6 L406,525.6" stroke-width="1.26"/>
  <!-- ear holes -->
  <ellipse cx="415.6" cy="502.2" rx="1.9" ry="3.4" transform="rotate(15 415.6 502.2)" stroke-width="1.38"/>
  <ellipse cx="414.4" cy="544.2" rx="1.9" ry="3.4" transform="rotate(15 414.4 544.2)" stroke-width="1.38"/>
  <path d="M408,492.4 Q406,500 407.6,508 Q410,512.6 415,511.8 M415,533.8 Q409.6,535.6 407.6,541 Q406.4,548 407.6,554.4" stroke-width="1.15"/>
  <path d="M388.6,558.8 Q391.6,552 397.6,548.6 Q403,546 407,547" stroke-width="1.03"/>

  <!-- CALIPER 31 outline -->
  <path d="M522,518.2 Q525,514.6 529.4,513.8 L544,514.6 L558.8,519 Q562.6,520.6 563.2,524 L564,541.8 L570.6,544 Q576.6,546.6 578,552 Q579.6,560 577.2,566.8 Q575,572.6 570.6,574 L561.8,572.6 L558.8,581.6 L555.6,587 L551.6,591.8 L541,592.6 L517.6,588.8 Q514.4,586.6 513.2,583 Q512,577 512.6,571 Q509,566.6 508,561 Q506.6,553 507.4,546.2 Q509,540.6 513.2,538 L516.2,533 Q518,524.6 522,518.2 Z" fill="#fff" stroke-width="1.61"/>
  <!-- black pad -->
  <path d="M517,536.6 L540.4,540.4 Q538.4,558 537.6,575.6 L513.2,571.2 Q512.2,562 513,553.6 Q514.4,543.6 517,536.6 Z" fill="#161616" stroke-width="0.92"/>
  <path d="M526.5,555.2 L525.6,564.6" stroke="#fff" stroke-width="1.26"/><circle cx="525.4" cy="566.4" r="1.1" fill="#fff" stroke="none"/>
  <path d="M513.2,538 Q510.6,546 510.6,554 Q510.8,562 512.6,571" stroke-width="1.03"/>
  <!-- front face boundary -->
  <path d="M550,521.2 Q545.6,530.6 543.4,540.4 Q540.8,552 540.4,563.8 Q540.2,580 542,591.8" stroke-width="1.38"/>
  <path d="M536,515 Q540,513 544.6,515" stroke-width="1.03"/>
  <!-- bolts -->
  <circle cx="552.2" cy="527" r="2.8" fill="#fff"/><path d="M550,525 Q548,527 549.4,529.6" stroke-width="1.03"/>
  <circle cx="548.6" cy="540.4" r="3.2" fill="#fff"/><path d="M546,538.4 Q544,540.8 545.6,543.4" stroke-width="1.03"/>
  <circle cx="547" cy="575.6" r="3.2" fill="#fff"/><path d="M544.4,573.6 Q542.4,576 544,578.6" stroke-width="1.03"/>
  <circle cx="548.6" cy="586.6" r="3.2" fill="#fff"/><path d="M546,584.6 Q544,587 545.6,589.6" stroke-width="1.03"/>
  <!-- piston housing 31 -->
  <path d="M548.6,548 Q555,546 564,541.8 L570.6,544 Q576.6,546.6 578,552 Q579.6,560 577.2,566.8 Q575,572.6 570.6,574 L561.8,572.6 L547,569.6 Q545.4,563 546,557 Z" fill="#fff" stroke-width="1.38"/>
  <path d="M566,573.4 Q561.6,566 562.6,557 Q563.6,549.6 568,543.2" stroke-width="1.03"/>
  <path d="M571.6,560.6 L574,558.6" stroke-width="1.26"/>
  <path d="M552,590.6 L561,578 M555.6,587 L559.6,589.6 L563,579" stroke-width="1.03"/>
</g>
<!-- 09_small.svg -->
<g fill="none" stroke="#1a1a1a" stroke-linecap="round" stroke-linejoin="round" stroke-width="1.26">
  <!-- arrow -->
  <path d="M160,519 L176,497 L190,501.2 L217,486 L227.4,487 L201,502.4 L212,507.2 Z" fill="#111" stroke-width="0.92"/>
  <!-- pad 33 -->
  <path d="M318.6,495.8 L340,498.8 Q336,517 334.4,535.8 L312,531 Q311.4,521 312.8,513 Q314.6,503 318.6,495.8 Z" fill="#fff" stroke-width="1.49"/>
  <path d="M314,528.8 L316.6,529.4 M319,529.8 L322,530.4 M325,531 L328,531.6 M330.4,532.2 L333,532.8" stroke-width="1.15"/>
  <path d="M320,495.2 Q322,493.6 323.6,495.6 M335.6,497.4 Q337.6,496 339,497.8" stroke-width="1.15"/>
  <path d="M329.6,497.2 L330.4,493.6 Q332,491.6 334,493 L334.8,494.4 L334.4,498" fill="#fff" stroke-width="1.15"/>
  <path d="M327.6,497 L337,498.4" stroke-width="1.61"/>
  <!-- bolt 25 -->
  <path d="M444.6,490 L458,492.8 L458.4,491.8 L464.4,493.6 Q465.8,495.4 464.4,497.4 L458,496.4 L457.6,495.4 L445.6,492.4 Z" fill="#fff" stroke-width="1.15"/>
  <path d="M460,492.6 L459.6,496.4 M462,493.2 L461.6,496.8" stroke-width="0.80"/>
  <path d="M444.6,490 L445.6,492.4 L443,490.4 Z" fill="#1a1a1a" stroke-width="0.69"/>
  <!-- washer 27 -->
  <ellipse cx="428.6" cy="505" rx="4.5" ry="6.6" transform="rotate(-10 428.6 505)" fill="#fff" stroke-width="1.38"/>
  <ellipse cx="428.8" cy="505" rx="2" ry="3.3" transform="rotate(-10 428.8 505)" stroke-width="1.03"/>
  <!-- bolt 26 -->
  <path d="M436.6,504.8 L450.6,507.4 L450.2,513.6 L436.4,510.8 Q434.6,507.8 436.6,504.8 Z" fill="#fff" stroke-width="1.38"/>
  <path d="M438.6,505.4 L438.4,511 M440.6,505.8 L440.4,511.4 M442.6,506.2 L442.4,511.8 M444.6,506.6 L444.4,512.2" stroke-width="0.80"/>
  <path d="M450.6,506 L456,505.6 Q460.4,507.4 460.4,511.4 Q460,516 455.6,517 L450.2,515.4 Z" fill="#fff" stroke-width="1.38"/>
  <path d="M454.6,505.8 Q452,511 454.2,516.8" stroke-width="0.92"/>
  <!-- bolt 28 -->
  <path d="M424.6,542.4 L437.6,545 L437.2,551.6 L424.4,548.6 Q422.6,545.4 424.6,542.4 Z" fill="#fff" stroke-width="1.38"/>
  <path d="M426.6,543 L426.4,548.8 M428.6,543.4 L428.4,549.2 M430.6,543.8 L430.4,549.6 M432.6,544.2 L432.4,550" stroke-width="0.80"/>
  <path d="M437.6,543.6 L443,543.2 Q447.6,545 447.6,549 Q447.2,553.6 442.8,554.6 L437.2,553 Z" fill="#fff" stroke-width="1.38"/>
  <path d="M441.6,543.4 Q439,548.6 441.2,554.4" stroke-width="0.92"/>
  <!-- nipple 30 -->
  <path d="M398,567.4 L402,567.4 L402.4,571.6 L403.6,572.6 L403.6,579.6 Q400,582.4 396.6,579.6 L396.6,572.6 L397.6,571.6 Z" fill="#fff" stroke-width="1.26"/>
  <path d="M397.8,568.8 L402.2,568.8 M397.8,570.2 L402.2,570.2 M396.6,572.8 L403.6,572.8" stroke-width="0.80"/>

  <!-- pad 32 -->
  <path d="M597.6,553.6 L601.6,548.6 L608.6,546 L619.2,547.6 Q624,549.6 625.2,553.6 L624.8,568.2 Q624.6,573 623.2,575.2 Q621.6,578.6 618.2,580.4 L598,588.4 L595,585.4 L595,580.4 L599.6,575.2 L600,564.2 L597.6,560.2 Z" fill="#fff" stroke-width="1.61"/>
  <path d="M620.2,550 L601.6,554.6 L603.6,560.2 L602,565.2 L601.6,575.2 L598,579.4 L597.6,587.4 M597.6,553.6 L601.6,554.6" stroke-width="1.15"/>
  <path d="M601.6,550 L605,547.6 L613,547.6 L613.8,550.4 Z" fill="#444" stroke-width="0.92"/>
  <ellipse cx="602.2" cy="558.2" rx="0.8" ry="1.4" stroke-width="1.03"/><ellipse cx="600.4" cy="582.4" rx="0.8" ry="1.4" stroke-width="1.03"/>
  <!-- plate 34 -->
  <path d="M632.8,559.6 L651.8,552.6 L654.6,554 L659,558.6 L658,575.2 Q657.4,581 654.4,584.4 L631.8,592.8 L631.4,585.4 L636.4,580.4 L636.8,570.2 L632.4,567.2 Z" fill="#fff" stroke-width="1.61"/>
  <path d="M640.8,568.8 Q643,561.6 648.6,561.6 Q654.2,563.2 654.4,572.4 Z" stroke-width="1.49"/>
  <ellipse cx="635.2" cy="563.8" rx="0.9" ry="1.6" stroke-width="1.03"/><ellipse cx="634.4" cy="587.4" rx="0.9" ry="1.6" stroke-width="1.03"/>
  <!-- clip 35 -->
  <path d="M670.4,570.4 L674.6,568.4 L678.4,569.4 L674,571.6 Z M679,572.4 L682.8,570.6 L686,571.6 L682.2,573.6 Z" fill="#fff" stroke-width="1.26"/>
  <path d="M672.6,571.6 L673.6,576.4 L672.2,584.6 L672.4,590 L682.6,592.4 L682.8,584.6 L683.8,578 L683.4,573.4 L680.6,573.6 L680.4,580 L678.8,583.4 M675.8,571.8 L676.4,576" fill="none" stroke-width="1.26"/>
  <path d="M676.6,576.6 Q678.6,575 678.6,578 L677.6,583 Q676,584.6 675.8,582.4 Z" stroke-width="1.15"/>
  <path d="M672.2,583 L668,581.6 L664.8,583.4 L664.8,589.6 L668.2,590.6 L672.4,589.4 M668,581.6 L668.2,590.6" fill="none" stroke-width="1.38"/>
  <path d="M682.8,583.6 L687,583.4 L689.8,585.6 L689.6,591.6 L686.6,592.8 L682.6,592.4 M686.8,585.4 L686.6,592.8" fill="none" stroke-width="1.38"/>
  <path d="M675.6,587.2 Q673.8,586.4 674.2,588.4 Q674.8,589.6 676,589" stroke-width="1.03"/>
  <path d="M673,590.4 L674.6,595 L673.6,600.6 L669.6,603.8 L672.6,604.6 L676.4,601.6 L677.6,595.6 L676,591.2 M679,592 L681,596.4 L680.6,602 L677.6,605 L681,605.6 L684,602.6 L684.4,597 L682.6,592.6 M669.6,603.8 L666.4,603.2 M677.6,605 L674.6,604.6" fill="none" stroke-width="1.26"/>
  <!-- pin 36 -->
  <path d="M688.6,575.6 L714.6,581 L715.2,579.8 L720.8,581.2 Q723.8,583.6 722.2,586.6 L719.6,587.2 L714.6,585.8 L714.4,584.4 L688.8,577.6 Z" fill="#fff" stroke-width="1.38"/>
  <path d="M715.2,579.8 Q713.6,582.6 714.6,585.8 M718.2,580.6 Q716.8,583.6 717.6,586.6" stroke-width="0.92"/>
  <path d="M690,576.6 L713,582.4" stroke-width="1.03"/>
</g>
<g fill="none" stroke="#1c1c1c" stroke-width="1.05" stroke-linejoin="round">
<polyline points="381.2,64 381.6,115"/>
<polyline points="406.3,63.6 406.8,105.5"/>
<polyline points="476.4,63 476.6,123.5"/>
<polyline points="517.6,94.3 517.6,167"/>
<polyline points="537,94.3 537,144 528.5,169"/>
<polyline points="556.6,94.3 556.6,157"/>
<polyline points="576,94.3 576,143 568.5,146.5"/>
<polyline points="576,143 584.5,156.5"/>
<polyline points="441.8,225 441.8,268.5"/>
<polyline points="463.7,167.5 463.2,207.6"/>
<polyline points="495.5,216.1 515,216.1"/>
<polyline points="153.6,192 170,192"/>
<polyline points="280,285 280,294.3"/>
<polyline points="516,240 516,269.8"/>
<polyline points="535.6,231 535.6,269.8"/>
<polyline points="555,231 555,269.8"/>
<polyline points="557,205 574.2,232 574.2,269.8"/>
<polyline points="576.5,195 593.8,228 593.8,269.8"/>
<polyline points="232,347.5 232,381.5"/>
<polyline points="279.6,347.5 279.6,373"/>
<polyline points="485,348.3 485,385 462,402"/>
<polyline points="511.6,348.3 511.6,407"/>
<polyline points="537.6,348.3 537.6,403"/>
<polyline points="564.6,348.3 564.6,408"/>
<polyline points="591,348.3 591,424"/>
<polyline points="618,348.3 618,426"/>
<polyline points="791.2,437 791.2,478"/>
<polyline points="830,436.4 830,476.5"/>
<polyline points="477.7,489.6 467,490 464.5,494"/>
<polyline points="477.7,509.6 460.5,509.6"/>
<polyline points="477.7,530 443,529.6 430,512.5"/>
<polyline points="477.7,550.4 448.5,550.4"/>
<polyline points="297.7,516 313,516"/>
<polyline points="367.6,560.5 367.6,610.8"/>
<polyline points="400,583.5 400,610.8"/>
<polyline points="537,595 537,610.8"/>
<polyline points="617.6,585 617.6,610.8"/>
<polyline points="649.9,591 649.9,611"/>
<polyline points="690,596 697.8,602 697.8,611"/>
<polyline points="718.5,589.5 718.5,611"/>
</g>
<g font-family="'Liberation Sans',sans-serif" font-size="10.9" text-anchor="middle" fill="#111" stroke="#111" stroke-width="0.35">
<circle cx="381.2" cy="55.3" r="8.25" fill="#fff" stroke="#1c1c1c" stroke-width="1.2"/>
<text x="381.2" y="59.199999999999996">1</text>
<circle cx="406.3" cy="54.8" r="8.25" fill="#fff" stroke="#1c1c1c" stroke-width="1.2"/>
<text x="406.3" y="58.699999999999996">2</text>
<circle cx="476.4" cy="54.2" r="8.25" fill="#fff" stroke="#1c1c1c" stroke-width="1.2"/>
<text x="476.4" y="58.1">3</text>
<circle cx="517.6" cy="85.3" r="8.25" fill="#fff" stroke="#1c1c1c" stroke-width="1.2"/>
<text x="517.6" y="89.2">6</text>
<circle cx="537.1" cy="85.3" r="8.25" fill="#fff" stroke="#1c1c1c" stroke-width="1.2"/>
<text x="537.1" y="89.2">7</text>
<circle cx="556.7" cy="85.3" r="8.25" fill="#fff" stroke="#1c1c1c" stroke-width="1.2"/>
<text x="556.7" y="89.2">8</text>
<circle cx="576.4" cy="85.3" r="8.25" fill="#fff" stroke="#1c1c1c" stroke-width="1.2"/>
<text x="576.4" y="89.2">9</text>
<circle cx="441.6" cy="216.1" r="8.25" fill="#fff" stroke="#1c1c1c" stroke-width="1.2"/>
<text x="441.3" y="220.0" letter-spacing="-0.7">10</text>
<circle cx="463" cy="216.1" r="8.25" fill="#fff" stroke="#1c1c1c" stroke-width="1.2"/>
<text x="462.7" y="220.0" letter-spacing="-0.7">11</text>
<circle cx="486.8" cy="216.1" r="8.25" fill="#fff" stroke="#1c1c1c" stroke-width="1.2"/>
<text x="486.5" y="220.0" letter-spacing="-0.7">37</text>
<circle cx="145" cy="192" r="8.25" fill="#fff" stroke="#1c1c1c" stroke-width="1.2"/>
<text x="144.7" y="195.9" letter-spacing="-0.7">38</text>
<circle cx="280" cy="303" r="8.25" fill="#fff" stroke="#1c1c1c" stroke-width="1.2"/>
<text x="279.7" y="306.9" letter-spacing="-0.7">38</text>
<circle cx="516" cy="278.5" r="8.25" fill="#fff" stroke="#1c1c1c" stroke-width="1.2"/>
<text x="515.7" y="282.4" letter-spacing="-0.7">12</text>
<circle cx="535.4" cy="278.5" r="8.25" fill="#fff" stroke="#1c1c1c" stroke-width="1.2"/>
<text x="535.1" y="282.4" letter-spacing="-0.7">13</text>
<circle cx="554.8" cy="278.5" r="8.25" fill="#fff" stroke="#1c1c1c" stroke-width="1.2"/>
<text x="554.5" y="282.4" letter-spacing="-0.7">14</text>
<circle cx="574.2" cy="278.5" r="8.25" fill="#fff" stroke="#1c1c1c" stroke-width="1.2"/>
<text x="573.9000000000001" y="282.4" letter-spacing="-0.7">15</text>
<circle cx="593.6" cy="278.5" r="8.25" fill="#fff" stroke="#1c1c1c" stroke-width="1.2"/>
<text x="593.3000000000001" y="282.4" letter-spacing="-0.7">16</text>
<circle cx="232" cy="338.2" r="8.25" fill="#fff" stroke="#1c1c1c" stroke-width="1.2"/>
<text x="231.7" y="342.09999999999997" letter-spacing="-0.7">17</text>
<circle cx="279.4" cy="338.2" r="8.25" fill="#fff" stroke="#1c1c1c" stroke-width="1.2"/>
<text x="279.09999999999997" y="342.09999999999997" letter-spacing="-0.7">18</text>
<circle cx="485.4" cy="340" r="8.25" fill="#fff" stroke="#1c1c1c" stroke-width="1.2"/>
<text x="485.09999999999997" y="343.9" letter-spacing="-0.7">19</text>
<circle cx="511.6" cy="340" r="8.25" fill="#fff" stroke="#1c1c1c" stroke-width="1.2"/>
<text x="511.3" y="343.9" letter-spacing="-0.7">20</text>
<circle cx="537.3" cy="340" r="8.25" fill="#fff" stroke="#1c1c1c" stroke-width="1.2"/>
<text x="537.0" y="343.9" letter-spacing="-0.7">21</text>
<circle cx="564.4" cy="340" r="8.25" fill="#fff" stroke="#1c1c1c" stroke-width="1.2"/>
<text x="564.1" y="343.9" letter-spacing="-0.7">22</text>
<circle cx="591.1" cy="340" r="8.25" fill="#fff" stroke="#1c1c1c" stroke-width="1.2"/>
<text x="590.8000000000001" y="343.9" letter-spacing="-0.7">23</text>
<circle cx="617.8" cy="340" r="8.25" fill="#fff" stroke="#1c1c1c" stroke-width="1.2"/>
<text x="617.5" y="343.9" letter-spacing="-0.7">19</text>
<circle cx="791" cy="428.2" r="8.25" fill="#fff" stroke="#1c1c1c" stroke-width="1.2"/>
<text x="790.7" y="432.09999999999997" letter-spacing="-0.7">24</text>
<circle cx="829.7" cy="427.6" r="8.25" fill="#fff" stroke="#1c1c1c" stroke-width="1.2"/>
<text x="829.4000000000001" y="431.5" letter-spacing="-0.7">18</text>
<circle cx="486.4" cy="489.6" r="8.25" fill="#fff" stroke="#1c1c1c" stroke-width="1.2"/>
<text x="486.09999999999997" y="493.5" letter-spacing="-0.7">25</text>
<circle cx="486.4" cy="509.6" r="8.25" fill="#fff" stroke="#1c1c1c" stroke-width="1.2"/>
<text x="486.09999999999997" y="513.5" letter-spacing="-0.7">26</text>
<circle cx="486.4" cy="530" r="8.25" fill="#fff" stroke="#1c1c1c" stroke-width="1.2"/>
<text x="486.09999999999997" y="533.9" letter-spacing="-0.7">27</text>
<circle cx="486.4" cy="550.4" r="8.25" fill="#fff" stroke="#1c1c1c" stroke-width="1.2"/>
<text x="486.09999999999997" y="554.3" letter-spacing="-0.7">28</text>
<circle cx="289" cy="516" r="8.25" fill="#fff" stroke="#1c1c1c" stroke-width="1.2"/>
<text x="288.7" y="519.9" letter-spacing="-0.7">33</text>
<circle cx="367.6" cy="619.5" r="8.25" fill="#fff" stroke="#1c1c1c" stroke-width="1.2"/>
<text x="367.3" y="623.4" letter-spacing="-0.7">29</text>
<circle cx="400" cy="619.5" r="8.25" fill="#fff" stroke="#1c1c1c" stroke-width="1.2"/>
<text x="399.7" y="623.4" letter-spacing="-0.7">30</text>
<circle cx="537" cy="619.5" r="8.25" fill="#fff" stroke="#1c1c1c" stroke-width="1.2"/>
<text x="536.7" y="623.4" letter-spacing="-0.7">31</text>
<circle cx="617.6" cy="619.5" r="8.25" fill="#fff" stroke="#1c1c1c" stroke-width="1.2"/>
<text x="617.3000000000001" y="623.4" letter-spacing="-0.7">32</text>
<circle cx="649.9" cy="619.8" r="8.25" fill="#fff" stroke="#1c1c1c" stroke-width="1.2"/>
<text x="649.6" y="623.6999999999999" letter-spacing="-0.7">34</text>
<circle cx="697.8" cy="619.8" r="8.25" fill="#fff" stroke="#1c1c1c" stroke-width="1.2"/>
<text x="697.5" y="623.6999999999999" letter-spacing="-0.7">35</text>
<circle cx="718.5" cy="619.8" r="8.25" fill="#fff" stroke="#1c1c1c" stroke-width="1.2"/>
<text x="718.2" y="623.6999999999999" letter-spacing="-0.7">36</text>
</g>
</svg>
</body></html>
